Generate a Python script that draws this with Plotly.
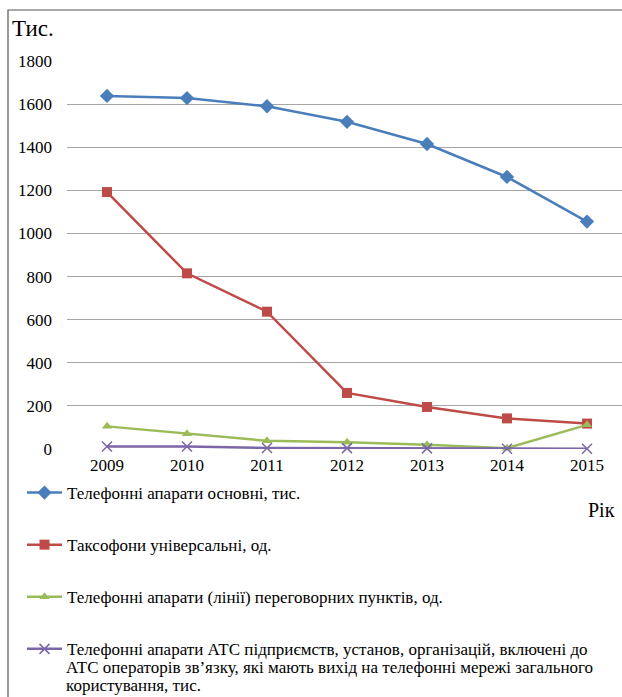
import plotly.graph_objects as go

years = ["2009", "2010", "2011", "2012", "2013", "2014", "2015"]
main_phones = [1638, 1628, 1590, 1518, 1415, 1262, 1055]
payphones = [1192, 815, 637, 260, 195, 142, 118]
call_points = [105, 71, 38, 31, 20, 4, 112]
pbx_phones = [12, 12, 5, 4, 3, 1, 1]

names = [
    "Телефонні апарати основні, тис.",
    "Таксофони універсальні, од.",
    "Телефонні апарати (лінії) переговорних пунктів, од.",
    "Телефонні апарати АТС підприємств, установ, організацій, включені до",
]
name4_more = [
    "АТС операторів зв’язку, які мають вихід на телефонні мережі загального",
    "користування, тис.",
]
y_ticks = [0, 200, 400, 600, 800, 1000, 1200, 1400, 1600, 1800]

FONT = "Liberation Serif"
W, H = 622, 697
L, R, T, B = 67, 0, 61, 248
PW, PH = W - L - R, H - T - B


def px(x):
    return (x - L) / PW


def py(y):
    return (H - B - y) / PH


series = [main_phones, payphones, call_points, pbx_phones]
colors = ["#4A7EBB", "#BE4B48", "#9BBB59", "#7B67A8"]
symbols = ["diamond", "square", "triangle-up", "x-thin"]
msizes = [11, 10, 9, 10]

fig = go.Figure()
for i, (vals, c, s, ms, nm) in enumerate(zip(series, colors, symbols, msizes, names)):
    marker = dict(symbol=s, size=ms, color=c)
    if s == "x-thin":
        marker["line"] = dict(color=c, width=1.5)
    fig.add_trace(go.Scatter(
        x=years, y=vals, name=nm, mode="lines+markers",
        line=dict(color=c, width=2.5), marker=marker,
        cliponaxis=False, legendgroup=f"g{i}",
    ))

LEG = 17
annotations = [
    dict(text="Тис.", xref="paper", yref="paper", x=px(10), xanchor="left",
         y=py(28), yanchor="middle", showarrow=False,
         font=dict(family=FONT, size=23, color="#000")),
    dict(text="Рік", xref="paper", yref="paper", x=px(617), xanchor="right",
         y=py(510), yanchor="middle", showarrow=False,
         font=dict(family=FONT, size=20, color="#000")),
]
for k, t in enumerate(name4_more):
    annotations.append(dict(
        text=t, xref="paper", yref="paper", x=px(64), xanchor="left",
        y=py(667 + 18 * k), yanchor="middle", showarrow=False,
        font=dict(family=FONT, size=LEG, color="#000"),
    ))

fig.update_layout(
    width=W, height=H,
    margin=dict(l=L, r=R, t=T, b=B, pad=0),
    paper_bgcolor="white", plot_bgcolor="white",
    font=dict(family=FONT, size=16, color="#000000"),
    showlegend=True,
    legend=dict(
        x=px(22), xanchor="left",
        y=py(475), yanchor="top",
        font=dict(family=FONT, size=LEG, color="#000000"),
        traceorder="grouped", tracegroupgap=27, valign="middle",
        bgcolor="rgba(0,0,0,0)", itemwidth=35,
    ),
    xaxis=dict(
        type="category", range=[-0.5, 6.5 - 5 / 80],
        showgrid=False, showline=False, zeroline=False, ticks="",
        tickfont=dict(family=FONT, size=17), ticklabelstandoff=4,
    ),
    yaxis=dict(
        range=[0, 1800], tickvals=y_ticks, showgrid=True,
        gridcolor="#A6A6A6", gridwidth=1, zeroline=False, showline=False,
        ticks="", tickfont=dict(family=FONT, size=17), ticklabelstandoff=14,
    ),
    shapes=[dict(
        type="rect", xref="paper", yref="paper",
        x0=px(8), x1=px(640), y0=py(720), y1=py(10),
        line=dict(color="#555555", width=1.2), fillcolor="rgba(0,0,0,0)",
        layer="below",
    )],
    annotations=annotations,
)

fig.write_html("out.html", config={"displayModeBar": False},
               post_script="document.body.style.margin='0px';")
